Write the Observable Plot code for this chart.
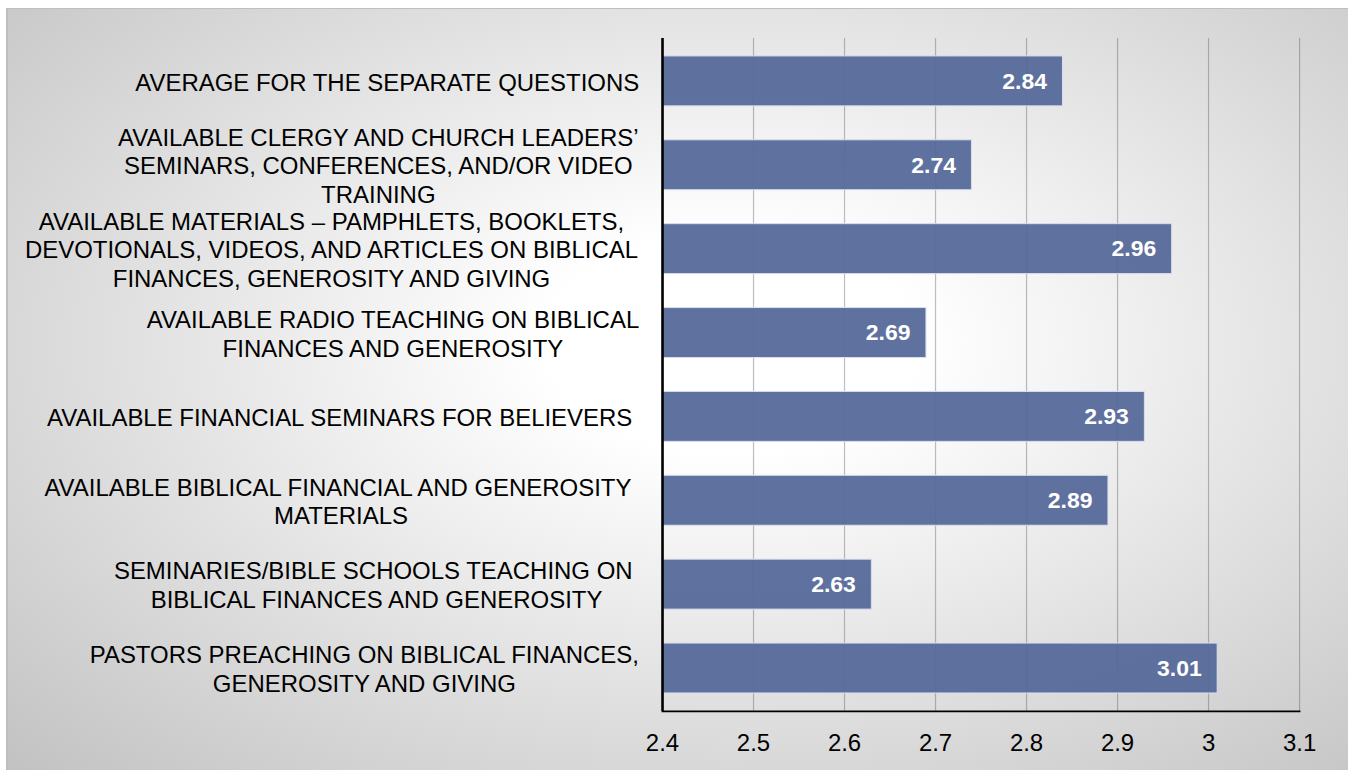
<!DOCTYPE html>
<html>
<head>
<meta charset="utf-8">
<script src="https://cdn.jsdelivr.net/npm/d3@7"></script>
<script src="https://cdn.jsdelivr.net/npm/@observablehq/plot@0.6"></script>
<style>
  html, body { margin: 0; padding: 0; background: #ffffff; }
  #panel {
    position: absolute; left: 6px; top: 8px; width: 1342px; height: 762px;
    box-sizing: border-box;
    border-top: 1px solid #bfbfbf; border-left: 2px solid #bdbdbd;
    background: radial-gradient(ellipse farthest-corner at 54% 44%, #ffffff 0%, #ffffff 18%, #c2c2c2 100%);
  }
  #panel svg { position: absolute; left: -2px; top: -1px; }
</style>
</head>
<body>
<div id="panel"></div>
<script>
const labels = [
  "AVERAGE FOR THE SEPARATE QUESTIONS",
  "AVAILABLE CLERGY AND CHURCH LEADERS’\nSEMINARS, CONFERENCES, AND/OR VIDEO\nTRAINING",
  "AVAILABLE MATERIALS – PAMPHLETS, BOOKLETS,\nDEVOTIONALS, VIDEOS, AND ARTICLES ON BIBLICAL\nFINANCES, GENEROSITY AND GIVING",
  "AVAILABLE RADIO TEACHING ON BIBLICAL\nFINANCES AND GENEROSITY",
  "AVAILABLE FINANCIAL SEMINARS FOR BELIEVERS ",
  "AVAILABLE BIBLICAL FINANCIAL AND GENEROSITY \nMATERIALS",
  "SEMINARIES/BIBLE SCHOOLS TEACHING ON \nBIBLICAL FINANCES AND GENEROSITY",
  "PASTORS PREACHING ON BIBLICAL FINANCES,\nGENEROSITY AND GIVING"
];
const values = [2.84, 2.74, 2.96, 2.69, 2.93, 2.89, 2.63, 3.01];
const xDomain = [2.4, 3.1];
const xTicks = [2.4, 2.5, 2.6, 2.7, 2.8, 2.9, 3, 3.1];

const data = labels.map((label, i) => ({label, value: values[i]}));

const FONT = "'Liberation Sans', Arial, Helvetica, sans-serif";
const ctx = document.createElement("canvas").getContext("2d");
ctx.font = "24px 'Liberation Sans', Arial, sans-serif";
const blockWidth = s => Math.max(...s.split("\n").map(l => ctx.measureText(l).width));

const labelMarks = data.map(d => Plot.text([d], {
  y: "label",
  text: "label",
  frameAnchor: "left",
  textAnchor: "middle",
  dx: -(23 + blockWidth(d.label) / 2),
  lineHeight: 1.2,
  fontSize: 24,
  fill: "#000"
}));

const chart = Plot.plot({
  width: 1342,
  height: 762,
  marginLeft: 657,
  marginRight: 47,
  marginTop: 30,
  marginBottom: 58,
  style: {background: "transparent", fontFamily: FONT, color: "#000", overflow: "visible"},
  x: {domain: xDomain, axis: null},
  y: {domain: labels, axis: null, paddingInner: 0.406, paddingOuter: 0.203},
  marks: [
    Plot.gridX(xTicks.slice(1), {stroke: "#555", strokeOpacity: 0.38, strokeWidth: 1.2}),
    Plot.barX(data, {
      y: "label",
      x1: () => xDomain[0],
      x2: "value",
      fill: "#56699a",
      fillOpacity: 0.95,
      stroke: "#d9dfec",
      strokeWidth: 1
    }),
    Plot.text(data, {
      y: "label",
      x: "value",
      text: d => d.value.toFixed(2),
      textAnchor: "end",
      dx: -16,
      fill: "#ffffff",
      fontWeight: "bold",
      fontSize: 23
    }),
    Plot.frame({anchor: "bottom", stroke: "#000", strokeWidth: 1.8}),
    Plot.ruleX([xDomain[0]], {stroke: "#000", strokeWidth: 2.6}),
    Plot.axisX(xTicks, {tickSize: 0, tickPadding: 23, fontSize: 24, tickFormat: d => String(d), fill: "#000", label: null}),
    ...labelMarks
  ]
});

document.getElementById("panel").appendChild(chart);
</script>
</body>
</html>
